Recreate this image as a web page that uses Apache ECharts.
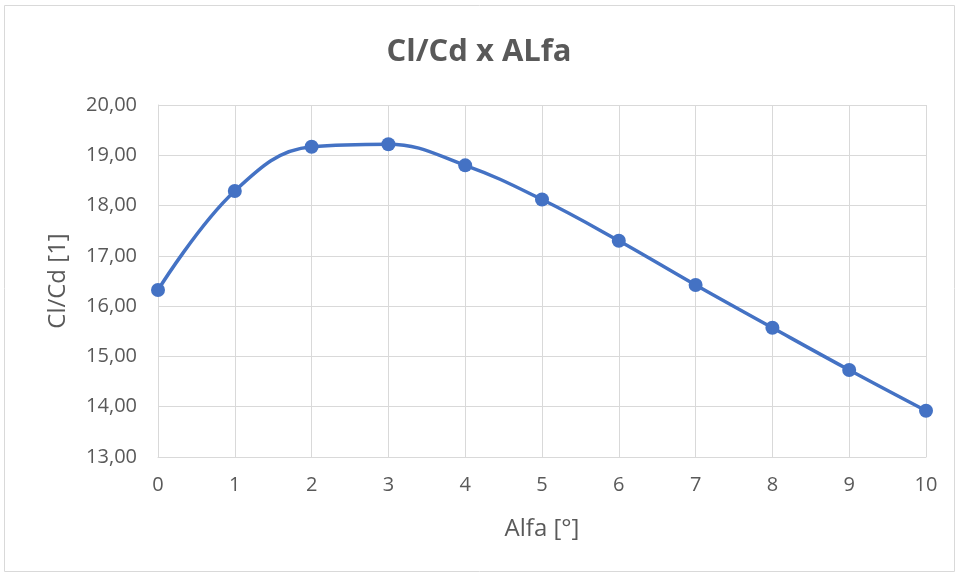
<!DOCTYPE html>
<html>
<head>
<meta charset="utf-8">
<script src="https://cdn.jsdelivr.net/npm/echarts@6/dist/echarts.min.js"></script>
<style>
  html, body { margin: 0; padding: 0; background: #fff; }
  #chart { width: 958px; height: 577px; }
</style>
</head>
<body>
<div id="chart"></div>
<script>
// data
const alfa = [0, 1, 2, 3, 4, 5, 6, 7, 8, 9, 10]
const clcd = [16.32, 18.29, 19.17, 19.22, 18.80, 18.12, 17.30, 16.42, 15.57, 14.73, 13.92]

const chart = echarts.init(document.getElementById('chart'))
const textColor = '#595959'
const gridColor = '#d9d9d9'
const font = '"Open Sans", sans-serif'

const option = {
  animation: false,
  title: {
    text: 'Cl/Cd x ALfa',
    left: 'center',
    top: 32,
    textStyle: { color: textColor, fontSize: 31, fontWeight: 'bold', fontFamily: font }
  },
  graphic: [{
    type: 'rect',
    shape: { x: 4.5, y: 5.5, width: 950, height: 566 },
    style: { fill: 'none', stroke: gridColor, lineWidth: 1 },
    silent: true
  }],
  grid: { left: 158, right: 32, top: 105, bottom: 120 },
  xAxis: {
    type: 'value',
    min: 0, max: 10, interval: 1,
    name: 'Alfa [°]',
    nameLocation: 'middle',
    nameGap: 60,
    nameTextStyle: { color: textColor, fontSize: 24, fontFamily: font },
    axisLine: { lineStyle: { color: gridColor } },
    axisTick: { show: false },
    axisLabel: { color: textColor, fontSize: 20, fontFamily: font, margin: 18 },
    splitLine: { show: true, lineStyle: { color: gridColor, width: 1 } }
  },
  yAxis: {
    type: 'value',
    min: 13, max: 20, interval: 1,
    name: 'Cl/Cd [1]',
    nameLocation: 'middle',
    nameGap: 88,
    nameRotate: 90,
    nameTextStyle: { color: textColor, fontSize: 24, fontFamily: font },
    axisLine: { show: true, lineStyle: { color: gridColor } },
    axisTick: { show: false },
    axisLabel: {
      color: textColor, fontSize: 20, fontFamily: font, margin: 21,
      formatter: v => v.toFixed(2).replace('.', ',')
    },
    splitLine: { show: true, lineStyle: { color: gridColor, width: 1 } }
  },
  series: [{
    type: 'line',
    data: alfa.map((a, i) => [a, clcd[i]]),
    smooth: 0.4,
    symbol: 'circle',
    symbolSize: 14,
    lineStyle: { color: '#4472C4', width: 3.5 },
    itemStyle: { color: '#4472C4' }
  }]
}

chart.setOption(option)
</script>
</body>
</html>
